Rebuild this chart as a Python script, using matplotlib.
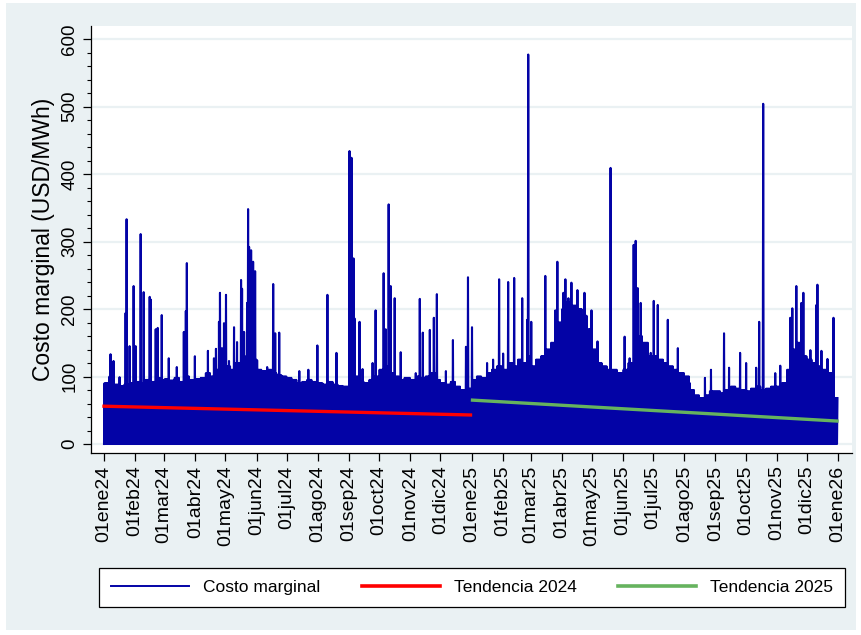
import numpy as np
import pandas as pd
import matplotlib
matplotlib.use("Agg")
import matplotlib.pyplot as plt
import matplotlib.dates as mdates
from matplotlib.patches import Rectangle
from matplotlib.ticker import FixedLocator, MultipleLocator

# ---------------- data ----------------
# isolated daily peaks of the hourly marginal cost (USD/MWh)
peak_dates = [
    "2024-01-07", "2024-01-10", "2024-01-16", "2024-01-22", "2024-01-23", "2024-01-26",
    "2024-01-30", "2024-02-01", "2024-02-06", "2024-02-09", "2024-02-15", "2024-02-16",
    "2024-02-21", "2024-02-23", "2024-02-27", "2024-03-05", "2024-03-13", "2024-03-20",
    "2024-03-22", "2024-03-23", "2024-03-31", "2024-04-13", "2024-04-19", "2024-04-21",
    "2024-04-24", "2024-04-25", "2024-04-27", "2024-04-29", "2024-05-01", "2024-05-04",
    "2024-05-09", "2024-05-12", "2024-05-16", "2024-05-17", "2024-05-19", "2024-05-22",
    "2024-05-23", "2024-05-24", "2024-05-26", "2024-05-28", "2024-05-30", "2024-06-01",
    "2024-06-11", "2024-06-17", "2024-06-19", "2024-06-23", "2024-07-13", "2024-07-22",
    "2024-07-31", "2024-08-10", "2024-08-19", "2024-09-01", "2024-09-03", "2024-09-05",
    "2024-09-06", "2024-09-11", "2024-09-14", "2024-09-24", "2024-09-27", "2024-10-05",
    "2024-10-07", "2024-10-10", "2024-10-12", "2024-10-16", "2024-10-22", "2024-11-06",
    "2024-11-10", "2024-11-13", "2024-11-20", "2024-11-24", "2024-11-27", "2024-12-06",
    "2024-12-13", "2024-12-26", "2024-12-28", "2025-01-01", "2025-01-16", "2025-01-22",
    "2025-01-28", "2025-02-01", "2025-02-06", "2025-02-12", "2025-02-20", "2025-02-25",
    "2025-02-26", "2025-03-01", "2025-03-15", "2025-03-25", "2025-03-27", "2025-04-02",
    "2025-04-04", "2025-04-07", "2025-04-10", "2025-04-16", "2025-04-23", "2025-04-26",
    "2025-04-30", "2025-05-06", "2025-05-19", "2025-06-02", "2025-06-07", "2025-06-11",
    "2025-06-13", "2025-06-15", "2025-06-18", "2025-06-20", "2025-06-28", "2025-07-01",
    "2025-07-05", "2025-07-15", "2025-07-25", "2025-08-06", "2025-08-21", "2025-08-27",
    "2025-09-09", "2025-09-14", "2025-09-25", "2025-10-01", "2025-10-11", "2025-10-14",
    "2025-10-18", "2025-10-30", "2025-11-04", "2025-11-14", "2025-11-16", "2025-11-20",
    "2025-11-25", "2025-11-27", "2025-12-04", "2025-12-10", "2025-12-11", "2025-12-15",
    "2025-12-21", "2025-12-27",
]
peak_values = [
    133, 123, 99, 194, 333, 145,
    234, 145, 311, 225, 218, 214,
    170, 172, 191, 127, 114, 166,
    197, 268, 130, 138, 127, 141,
    181, 224, 142, 179, 221, 123,
    173, 151, 243, 230, 166, 209,
    348, 292, 287, 270, 256, 124,
    114, 237, 164, 165, 108, 110,
    146, 221, 135, 434, 424, 275,
    186, 181, 111, 120, 198, 253,
    170, 355, 234, 216, 136, 105,
    215, 165, 169, 187, 222, 108,
    154, 144, 247, 173, 120, 125,
    244, 134, 240, 246, 216, 184,
    577, 181, 249, 198, 270, 224,
    244, 216, 239, 228, 224, 142,
    198, 152, 409, 159, 127, 295,
    301, 231, 209, 150, 135, 212,
    206, 184, 142, 90, 98, 110,
    164, 113, 135, 120, 113, 181,
    504, 105, 116, 187, 201, 234,
    209, 224, 139, 206, 236, 138,
    126, 187,
]
# upper edge of the dense hourly band: six readings per month
# (days 1-5, 6-10, 11-15, 16-20, 21-25, 26-end)
band_2024 = [
    90, 100, 88, 86, 88, 90,
    92, 90, 95, 92, 98, 95,
    96, 94, 98, 92, 100, 95,
    96, 98, 105, 100, 110, 112,
    115, 110, 120, 118, 130, 125,
    110, 108, 110, 105, 102, 100,
    98, 95, 90, 92, 95, 92,
    90, 88, 92, 88, 86, 85,
    95, 100, 92, 90, 95, 100,
    110, 115, 105, 100, 95, 98,
    95, 100, 98, 100, 105, 95,
    90, 88, 92, 85, 80, 82,
]
band_2025 = [
    95, 100, 98, 105, 110, 115,
    110, 120, 115, 125, 120, 130,
    115, 125, 130, 140, 150, 180,
    200, 210, 205, 200, 190, 170,
    140, 120, 115, 110, 110, 105,
    110, 120, 140, 160, 150, 130,
    130, 125, 120, 115, 110, 105,
    100, 80, 72, 68, 72, 78,
    78, 75, 80, 85, 82, 80,
    78, 82, 85, 80, 82, 85,
    85, 90, 110, 140, 150, 130,
    125, 120, 115, 110, 105, 68,
]
# daily minimum of the hourly series, per month
low_values = [
    0, 0, 0, 0, 0, 0, 0, 0, 0, 0, 0, 0,
    0, 0, 0, 0, 0, 0, 0, 0, 0, 0, 0, 0,
]
trend_2024 = [56, 43]
trend_2025 = [65, 34]

tick_labels = [
    "01ene24", "01feb24", "01mar24", "01abr24", "01may24", "01jun24", "01jul24",
    "01ago24", "01sep24", "01oct24", "01nov24", "01dic24", "01ene25", "01feb25",
    "01mar25", "01abr25", "01may25", "01jun25", "01jul25", "01ago25", "01sep25",
    "01oct25", "01nov25", "01dic25", "01ene26",
]

# ---------------- build series ----------------
days = pd.date_range("2024-01-01", "2025-12-31", freq="D")
band = np.asarray(band_2024 + band_2025, float)
blk = (days.year - 2024) * 72 + (days.month - 1) * 6 + np.minimum((days.day - 1) // 5, 5)
high = band[blk]
low = np.asarray(low_values, float)[(days.year - 2024) * 12 + days.month - 1]
pk_idx = days.get_indexer(pd.to_datetime(peak_dates))
high[pk_idx] = np.asarray(peak_values, float)

xd = mdates.date2num(days.to_pydatetime())
zx = np.column_stack([xd, xd + 0.5]).ravel()
zy = np.column_stack([low, high]).ravel()

# ---------------- figure ----------------
plt.rcParams["font.family"] = ["Liberation Sans", "DejaVu Sans"]
W, H = 862, 635
fig = plt.figure(figsize=(W / 100, H / 100), dpi=100, facecolor="white")
bg = "#EAF1F3"
fig.patches.append(Rectangle((6 / W, 5 / H), 850 / W, 627 / H, transform=fig.transFigure,
                             facecolor=bg, edgecolor="none", zorder=-10))

ax = fig.add_axes([91 / W, (H - 453) / H, (852 - 91) / W, (453 - 26) / H])
ax.set_zorder(1)
ax.set_facecolor("white")

navy = "#0303A6"
ax.plot(zx, zy, color=navy, lw=1.5, zorder=3, label="Costo marginal")
t24 = mdates.date2num(pd.to_datetime(["2024-01-01", "2024-12-31"]).to_pydatetime())
t25 = mdates.date2num(pd.to_datetime(["2025-01-02", "2025-12-31"]).to_pydatetime())
ax.plot(t24, trend_2024, color="#FF0000", lw=2.4, zorder=4, label="Tendencia 2024")
ax.plot(t25, trend_2025, color="#66B35E", lw=2.4, zorder=4, label="Tendencia 2025")

x0 = mdates.date2num(pd.Timestamp("2024-01-01").to_pydatetime())
x1 = mdates.date2num(pd.Timestamp("2026-01-01").to_pydatetime())
pxd = (838 - 104) / (x1 - x0)
ax.set_xlim(x0 - 13 / pxd, x1 + 14 / pxd)
ax.set_ylim(-9 / 0.675, (444 - 26) / 0.675)

tick_pos = mdates.date2num(pd.date_range("2024-01-01", "2026-01-01", freq="MS").to_pydatetime())
ax.xaxis.set_major_locator(FixedLocator(tick_pos))
ax.set_xticklabels(tick_labels, rotation=90, fontsize=14)
ax.set_yticks(np.arange(0, 601, 100))
ax.set_yticklabels([str(v) for v in range(0, 601, 100)], rotation=90, va="center", fontsize=13.5)
ax.yaxis.set_minor_locator(MultipleLocator(20))
ax.tick_params(axis="both", which="major", direction="out", length=6, width=0.9, color="black", pad=3)
ax.tick_params(axis="y", which="minor", direction="out", length=3, width=0.8, color="black")
ax.grid(axis="y", which="major", color="#EAF1F3", lw=1.6, zorder=0)
ax.set_axisbelow(True)
for s in ("top", "right"):
    ax.spines[s].set_visible(False)
for s in ("left", "bottom"):
    ax.spines[s].set_color("black")
    ax.spines[s].set_linewidth(0.9)
ax.set_ylabel("Costo marginal (USD/MWh)", fontsize=16.5, labelpad=5)

leg = fig.legend(loc="lower left", bbox_to_anchor=(99 / W, (H - 607) / H, 746 / W, 39 / H),
                 mode="expand", ncol=3, fontsize=12.5, frameon=True, fancybox=False,
                 edgecolor="black", facecolor="white", framealpha=1, handlelength=4.5,
                 borderaxespad=0, handletextpad=0.8, borderpad=0.7)
leg.get_frame().set_linewidth(0.9)
for h in leg.get_lines():
    h.set_linewidth(1.4 if h.get_label() == "Costo marginal" else 2.6)

fig.savefig("out.png", dpi=100, facecolor="white")
